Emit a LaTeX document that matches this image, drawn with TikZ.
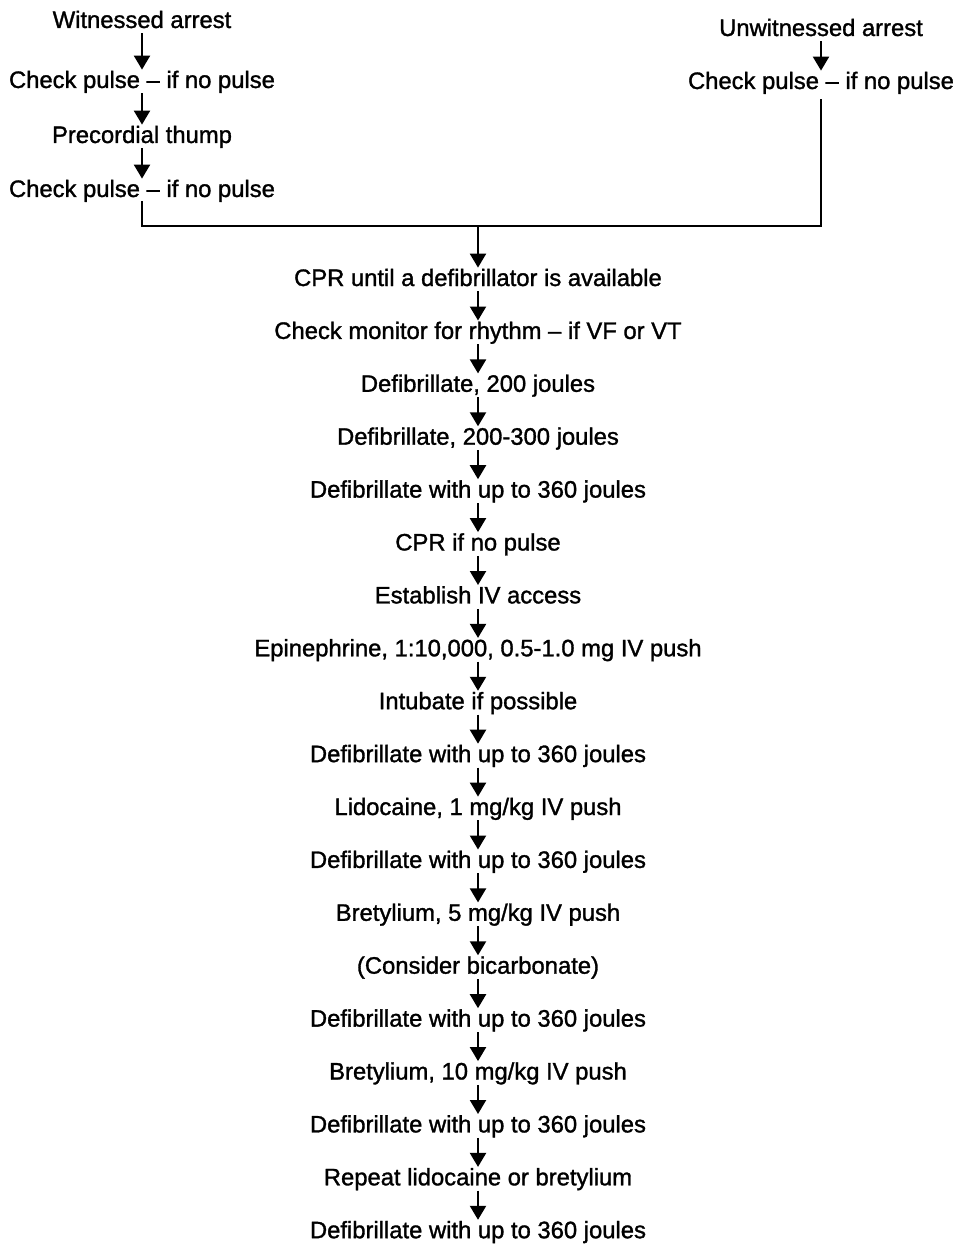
\documentclass[tikz,border=0pt]{standalone}
\usepackage{fontspec}
\setmainfont{Liberation Sans}
\newfontfamily\flowfont{Liberation Sans}[FakeBold=1.3]
\usetikzlibrary{arrows.meta}
\tikzset{
  txt/.style={inner sep=0pt, anchor=base, text height=8.4pt, text depth=0pt, font=\flowfont\fontsize{11.9}{14}\selectfont},
  flow/.style={-{Triangle[width=8pt,length=7pt]}, line width=1.1pt, shorten <=2.5pt, shorten >=0.6pt}
}
\begin{document}
\begin{tikzpicture}[x=0.5pt,y=-0.5pt]
  \useasboundingbox (0,0) rectangle (952,1246);
  % two starting columns
  \node[txt] (w1) at (142,28) {Witnessed arrest};
  \node[txt] (w2) at (142,88) {Check pulse \textendash\ if no pulse};
  \node[txt] (w3) at (142,143) {Precordial thump};
  \node[txt] (w4) at (142,197) {Check pulse \textendash\ if no pulse};
  \node[txt] (u1) at (821,36) {Unwitnessed arrest};
  \node[txt] (u2) at (821,89) {Check pulse \textendash\ if no pulse};
  \foreach \a/\b in {w1/w2,w2/w3,w3/w4,u1/u2}
    \draw[flow] (\a.south) -- (\b.north);
  \coordinate (j) at (478,226);
  \draw[line width=1.1pt, shorten <=2pt, shorten >=5pt] (w4.south) |- (j) -| (u2.south);
  % main sequence
  \foreach \t [count=\i] in {CPR until a defibrillator is available,
    Check monitor for rhythm \textendash\ if VF or VT,
    {Defibrillate, 200 joules},
    {Defibrillate, 200-300 joules},
    Defibrillate with up to 360 joules,
    CPR if no pulse,
    Establish IV access,
    {Epinephrine, 1:10,000, 0.5-1.0 mg IV push},
    Intubate if possible,
    Defibrillate with up to 360 joules,
    {Lidocaine, 1 mg/kg IV push},
    Defibrillate with up to 360 joules,
    {Bretylium, 5 mg/kg IV push},
    (Consider bicarbonate),
    Defibrillate with up to 360 joules,
    {Bretylium, 10 mg/kg IV push},
    Defibrillate with up to 360 joules,
    Repeat lidocaine or bretylium,
    Defibrillate with up to 360 joules}
    \node[txt] (c\i) at (478,{286+52.9*(\i-1)}) {\t};
  \draw[flow, shorten <=0pt] (j) -- (c1.north);
  \foreach \i [remember=\i as \p (initially 1)] in {2,...,19}
    \draw[flow] (c\p.south) -- (c\i.north);
\end{tikzpicture}
\end{document}
